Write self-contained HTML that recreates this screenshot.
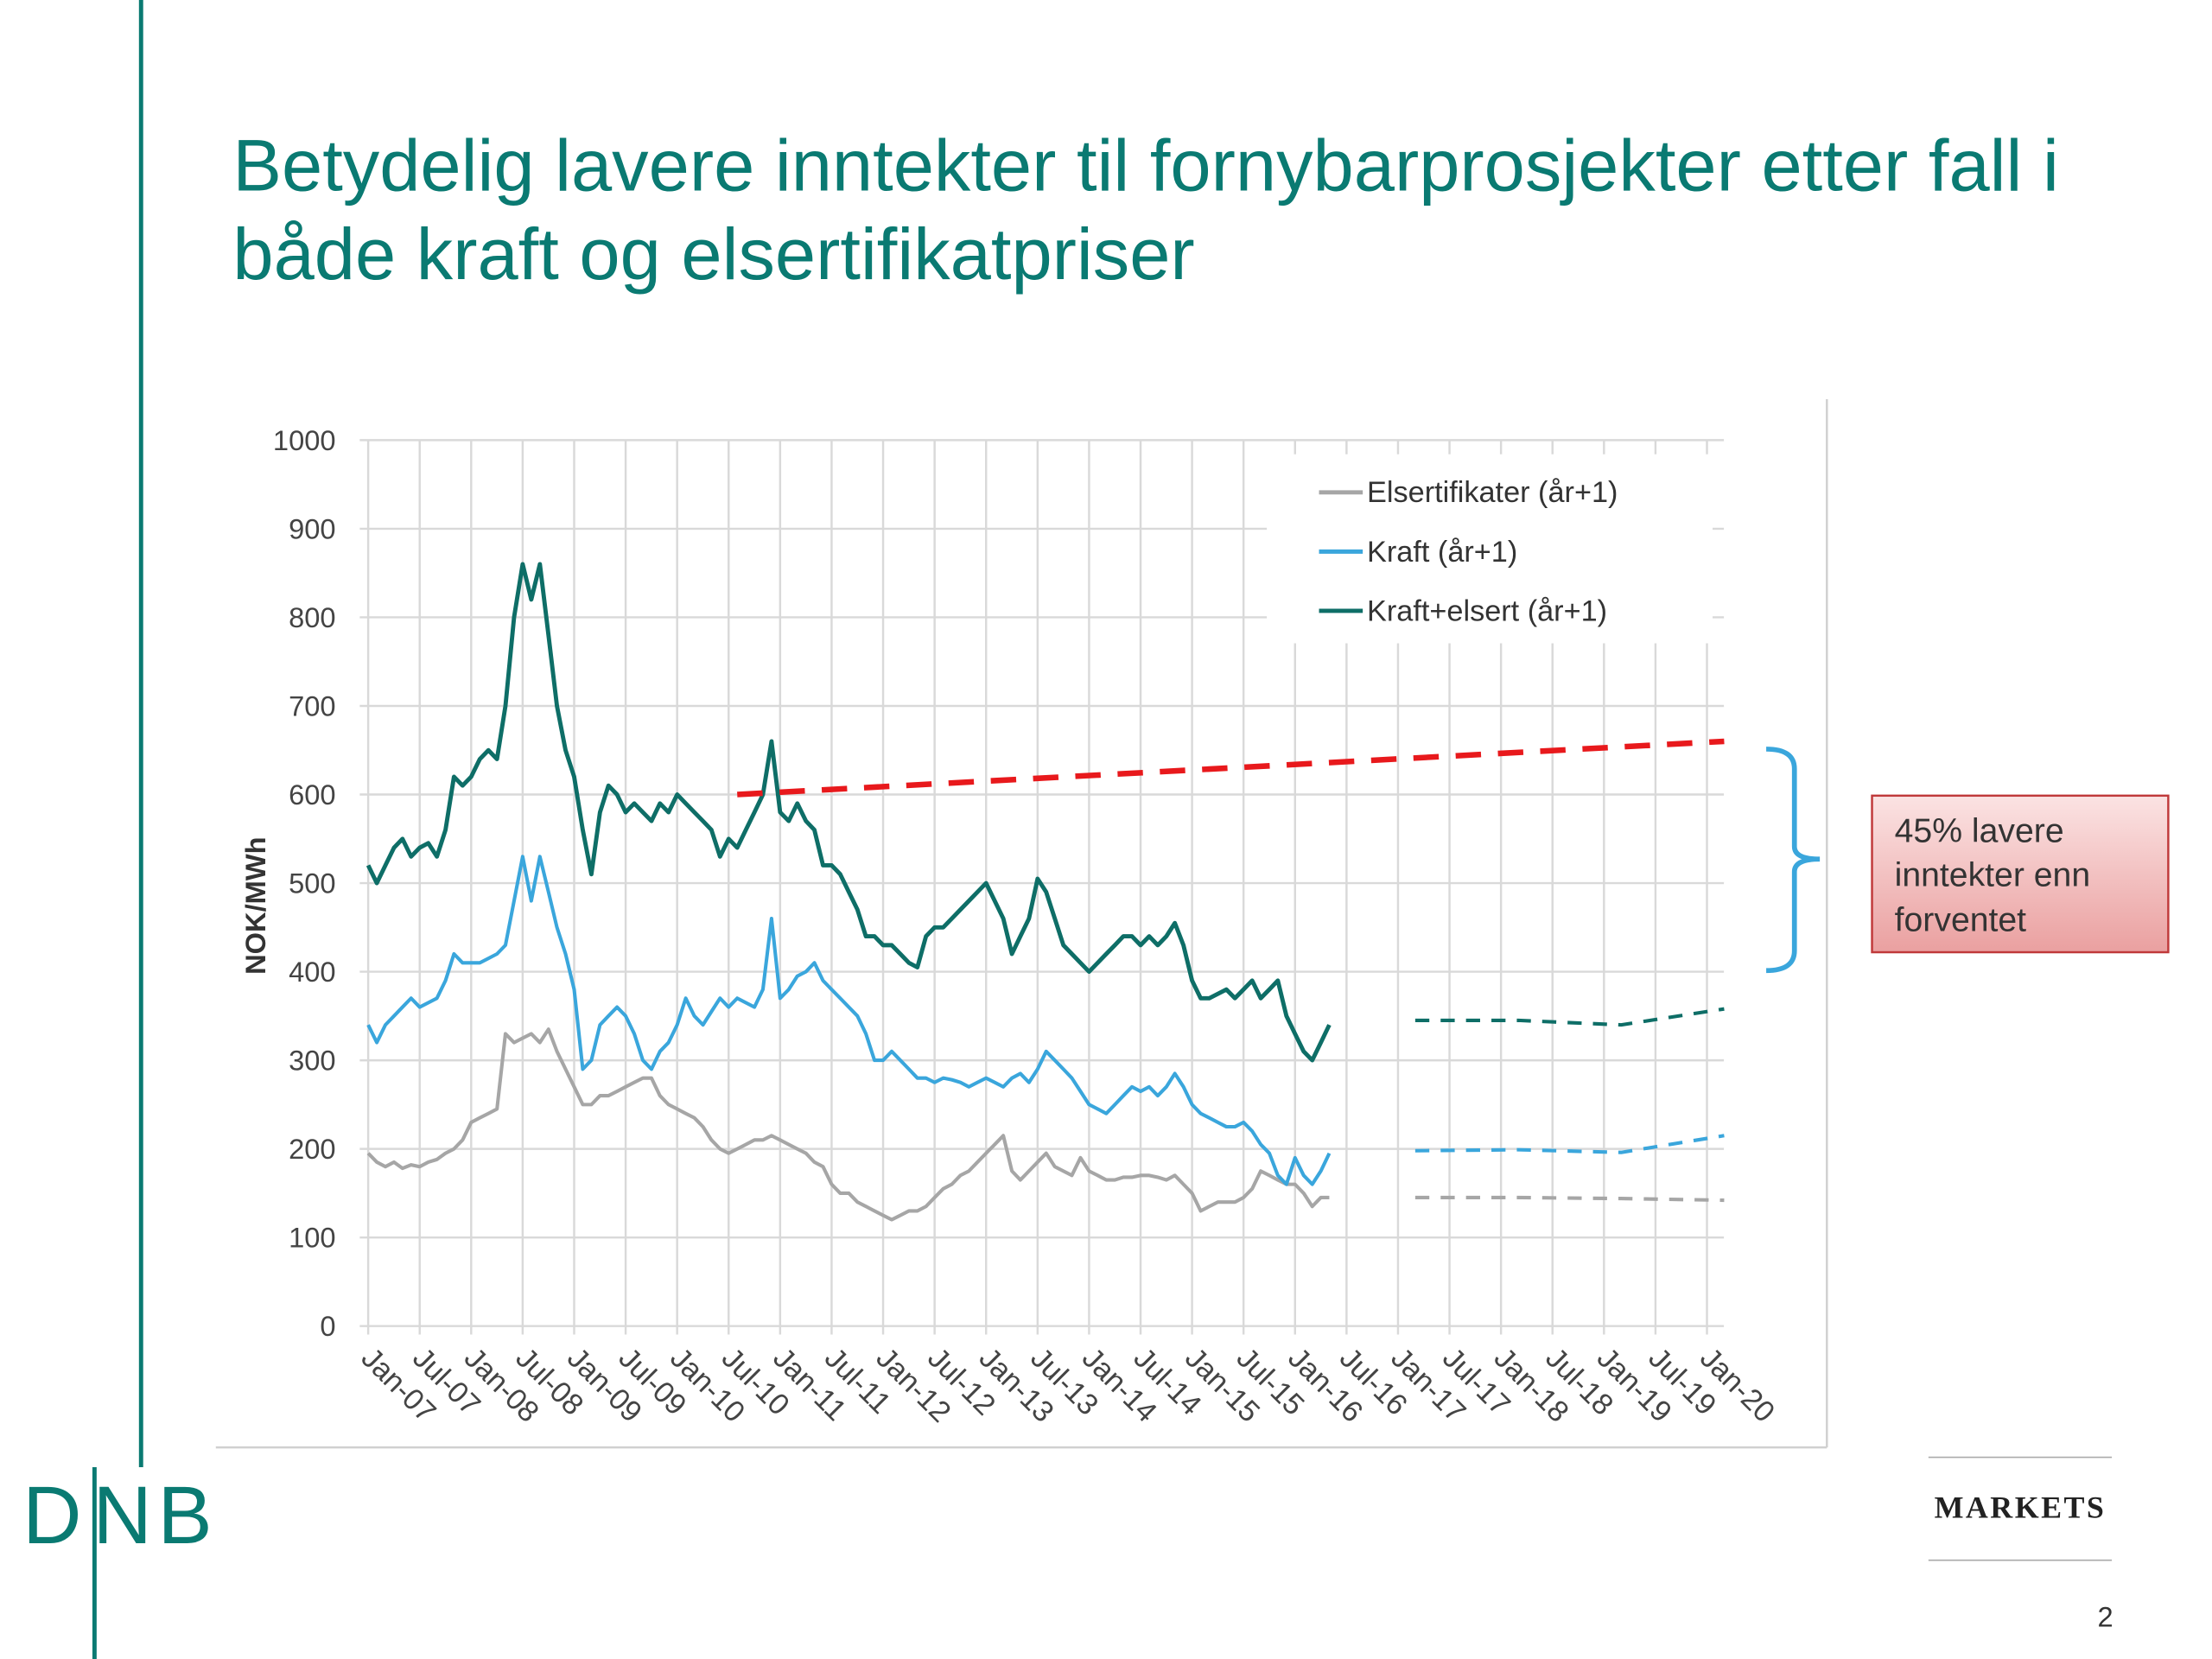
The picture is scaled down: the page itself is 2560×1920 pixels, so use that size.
<!DOCTYPE html>
<html><head><meta charset="utf-8"><style>
html,body{margin:0;padding:0;background:#fff;width:2560px;height:1920px;overflow:hidden}
svg{display:block}
</style></head><body>
<svg id="s" width="2560" height="1920" viewBox="0 0 1568 1176" preserveAspectRatio="none" font-family="Liberation Sans, sans-serif">
<line x1="100" y1="0" x2="100" y2="1040" stroke="#0a7a72" stroke-width="3"/>
<text x="165" y="135" font-size="52" fill="#0a7a72">Betydelig lavere inntekter til fornybarprosjekter etter fall i</text>
<text x="165" y="198" font-size="52" fill="#0a7a72">både kraft og elsertifikatpriser</text>
<line x1="1295" y1="283" x2="1295" y2="1026" stroke="#d0d0d0" stroke-width="1.5"/>
<line x1="153" y1="1026" x2="1295" y2="1026" stroke="#d0d0d0" stroke-width="1.5"/>
<g id="grid"></g>
<rect x="898" y="322" width="316" height="134" fill="#fff"/>
<g id="legend"></g>
<g id="series"></g>
<g id="axes"></g>
<text transform="translate(188,642) rotate(-90)" text-anchor="middle" font-size="20" font-weight="bold" fill="#333">NOK/MWh</text>
<path d="M1252,531 Q1272,531 1272,545 L1272,600 Q1272,609 1290,609 Q1272,609 1272,618 L1272,674 Q1272,688 1252,688" fill="none" stroke="#3aa6dc" stroke-width="3.5"/>
<defs><linearGradient id="pg" x1="0" y1="0" x2="0" y2="1"><stop offset="0" stop-color="#fbe3e3"/><stop offset="1" stop-color="#eaa0a0"/></linearGradient></defs>
<rect x="1327" y="564" width="210" height="111" fill="url(#pg)" stroke="#c0393a" stroke-width="1.5"/>
<text font-size="24" fill="#333"><tspan x="1343" y="597">45% lavere</tspan><tspan x="1343" y="628">inntekter enn</tspan><tspan x="1343" y="660">forventet</tspan></text>
<line x1="1367" y1="1033" x2="1497" y2="1033" stroke="#aaa"/>
<line x1="1367" y1="1106" x2="1497" y2="1106" stroke="#aaa"/>
<text x="1432" y="1076" text-anchor="middle" font-family="Liberation Serif, serif" font-weight="bold" font-size="22" letter-spacing="1.5" fill="#222">MARKETS</text>
<text x="1498" y="1153" text-anchor="end" font-size="20" fill="#333">2</text>
<text x="16" y="1094" font-size="58" fill="#0a7a72">D<tspan dx="8">N</tspan><tspan dx="4">B</tspan></text>
<line x1="67" y1="1040" x2="67" y2="1176" stroke="#0a7a72" stroke-width="3"/>
</svg>
<script>
const yTicks=[0,100,200,300,400,500,600,700,800,900,1000];
const xTickLabels=["Jan-07","Jul-07","Jan-08","Jul-08","Jan-09","Jul-09","Jan-10","Jul-10","Jan-11","Jul-11","Jan-12","Jul-12","Jan-13","Jul-13","Jan-14","Jul-14","Jan-15","Jul-15","Jan-16","Jul-16","Jan-17","Jul-17","Jan-18","Jul-18","Jan-19","Jul-19","Jan-20"];
const elsert=[195,185,180,185,178,182,180,185,188,195,200,210,230,235,240,245,330,320,325,330,320,335,310,290,270,250,250,260,260,265,270,275,280,280,260,250,245,240,235,225,210,200,195,200,205,210,210,215,210,205,200,195,185,180,160,150,150,140,135,130,125,120,125,130,130,135,145,155,160,170,175,185,195,205,215,175,165,175,185,195,180,175,170,190,175,170,165,165,168,168,170,170,168,165,170,160,150,130,135,140,140,140,145,155,175,170,165,160,160,150,135,145,145];
const kraft=[340,320,340,350,360,370,360,365,370,390,420,410,410,410,415,420,430,480,530,480,530,490,450,420,380,290,300,340,350,360,350,330,300,290,310,320,340,370,350,340,355,370,360,370,365,360,380,460,370,380,395,400,410,390,380,370,360,350,330,300,300,310,300,290,280,280,275,280,278,275,270,275,280,275,270,280,285,275,290,310,300,290,280,265,250,245,240,250,260,270,265,270,260,270,285,270,250,240,235,230,225,225,230,220,205,195,170,160,190,170,160,175,195];
const total=[520,500,520,540,550,530,540,545,530,560,620,610,620,640,650,640,700,800,860,820,860,780,700,650,620,560,510,580,610,600,580,590,580,570,590,580,600,590,580,570,560,530,550,540,560,580,600,660,580,570,590,570,560,520,520,510,490,470,440,440,430,430,420,410,405,440,450,450,460,470,480,490,500,480,460,420,440,460,505,490,460,430,420,410,400,410,420,430,440,440,430,440,430,440,455,430,390,370,370,375,380,370,380,390,370,380,390,350,330,310,300,320,340];
const fcMonths=[122,134,146,158];
const fcTotal=[345,345,340,358];
const fcKraft=[198,199,196,215];
const fcElsert=[145,145,144,142];
const expMonths=[43,158];
const expected=[600,660];

const NS="http://www.w3.org/2000/svg";
const X0=261,X1=1210,Y0=940,Y1=312;
function xs(m){return X0+(X1-X0)*m/156;}
function ys(v){return Y0-(Y0-Y1)*v/1000;}
function mk(tag,attrs,parent){const e=document.createElementNS(NS,tag);for(const k in attrs)e.setAttribute(k,attrs[k]);parent.appendChild(e);return e;}
const grid=document.getElementById('grid'),axes=document.getElementById('axes'),ser=document.getElementById('series'),leg=document.getElementById('legend');
yTicks.forEach(v=>{
  const l=mk('line',{x1:255,x2:1222,y1:ys(v),y2:ys(v),stroke:'#d9d9d9','stroke-width':1.5},grid);
  
  
  const t=mk('text',{x:238,y:ys(v)+7,'text-anchor':'end','font-size':20,fill:'#444'},axes);
  t.textContent=v;
  
  
});
xTickLabels.forEach((lab,i)=>{
  const x=xs(i*6);
  const l=mk('line',{x1:x,x2:x,y1:Y1,y2:Y0+6,stroke:'#d9d9d9','stroke-width':1.5},grid);
  
  
  const t=mk('text',{transform:`translate(${x-6},${Y0+24}) rotate(45)`,'font-size':21,fill:'#444'},axes);
  t.textContent=lab;
  
  
});
function line(ms,vals,color,w,dash,name){
  const d=vals.map((v,i)=>(i?'L':'M')+xs(ms?ms[i]:i).toFixed(1)+','+ys(v).toFixed(1)).join('');
  const p=mk('path',{d:d,fill:'none',stroke:color,'stroke-width':w,'stroke-linejoin':'round'},ser);
  if(dash)p.setAttribute('stroke-dasharray',dash);
  
  
}
line(null,elsert,'#a6a6a6',2.5,null,'elsertifikater-line');
line(null,kraft,'#3aa6dc',2.5,null,'kraft-line');
line(null,total,'#0e6e67',3,null,'kraft-elsert-line');
line(fcMonths,fcElsert,'#a6a6a6',2.5,'10,8','elsertifikater-forecast');
line(fcMonths,fcKraft,'#3aa6dc',2.5,'10,8','kraft-forecast');
line(fcMonths,fcTotal,'#0e6e67',2.5,'10,8','kraft-elsert-forecast');
line(expMonths,expected,'#e8191c',4,'18,12','expected-revenue-line');
[['Elsertifikater (år+1)','#a6a6a6',349],['Kraft (år+1)','#3aa6dc',391],['Kraft+elsert (år+1)','#0e6e67',433]].forEach(e=>{
  const l=mk('line',{x1:935,x2:966,y1:e[2],y2:e[2],stroke:e[1],'stroke-width':3},leg);
  
  
  const t=mk('text',{x:969,y:e[2]+7,'font-size':21,fill:'#333'},leg);
  t.textContent=e[0];
  
  
});
</script>
</body></html>
